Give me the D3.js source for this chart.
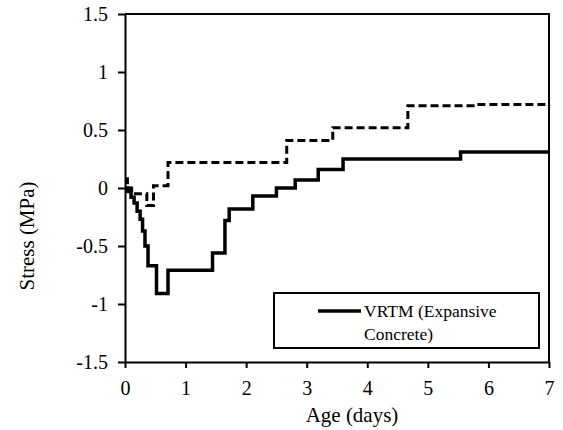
<!DOCTYPE html>
<meta charset="utf-8">
<style>
  body { margin: 0; background: #fff; }
  text { font-family: "Liberation Serif", "Times New Roman", serif; fill: #000; }
</style>
<svg width="563" height="430"></svg>
<script src="https://d3js.org/d3.v7.min.js"></script>
<script>

// data: age in days, stress in MPa (step-after)
var solidAge    = [0, 0.05, 0.1, 0.15, 0.2, 0.25, 0.29, 0.33, 0.38, 0.52, 0.71, 1.445, 1.65, 1.72, 2.11, 2.5, 2.81, 3.19, 3.6, 5.54, 7];
var solidStress = [0, -0.03, -0.08, -0.13, -0.2, -0.27, -0.37, -0.5, -0.67, -0.91, -0.71, -0.56, -0.28, -0.18, -0.07, 0, 0.07, 0.16, 0.25, 0.31, 0.31];

var dashAge    = [0, 0.04, 0.11, 0.36, 0.47, 0.71, 2.67, 3.43, 4.67, 5.8, 7];
var dashStress = [0.08, 0.0, -0.05, -0.15, 0.02, 0.22, 0.41, 0.52, 0.71, 0.72, 0.71];

var xTicks = [0, 1, 2, 3, 4, 5, 6, 7];
var yTicks = [-1.5, -1, -0.5, 0, 0.5, 1, 1.5];
var legendLabel = ["VRTM (Expansive", "Concrete)"];

var svg = d3.select("svg");
var plotL = 125, plotR = 549, plotT = 14, plotB = 362;

var x = d3.scaleLinear().domain([0, 7]).range([plotL, plotR]);
var y = d3.scaleLinear().domain([-1.5, 1.5]).range([plotB, plotT]);

// frame (top + right)
svg.append("path")
    .attr("d", "M" + plotL + "," + plotT + "H" + plotR + "V" + plotB)
    .attr("fill", "none")
    .attr("stroke", "#000")
    .attr("stroke-width", 2);

// axes
var xAxis = svg.append("g")
    .attr("transform", "translate(0," + plotB + ")")
    .call(d3.axisBottom(x).tickValues(xTicks).tickSize(6).tickSizeOuter(0).tickPadding(13).tickFormat(d3.format("d")));
var yAxis = svg.append("g")
    .attr("transform", "translate(" + plotL + ",0)")
    .call(d3.axisLeft(y).tickValues(yTicks).tickSize(7).tickSizeOuter(0).tickPadding(10).tickFormat(function(d) { return String(d); }));

[xAxis, yAxis].forEach(function(a) {
  a.select(".domain").attr("stroke-width", 2);
  a.selectAll(".tick line").attr("stroke-width", 2);
  a.selectAll("text").style("font-size", "20px").style("font-family", "Liberation Serif");
});

// series
var line = d3.line()
    .x(function(d) { return x(d[0]); })
    .y(function(d) { return y(d[1]); })
    .curve(d3.curveStepAfter);

svg.append("path")
    .datum(dashAge.map(function(a, i) { return [a, dashStress[i]]; }))
    .attr("d", line)
    .attr("fill", "none")
    .attr("stroke", "#000")
    .attr("stroke-width", 3)
    .attr("stroke-dasharray", "8,4");

svg.append("path")
    .datum(solidAge.map(function(a, i) { return [a, solidStress[i]]; }))
    .attr("d", line)
    .attr("fill", "none")
    .attr("stroke", "#000")
    .attr("stroke-width", 3.5);

// legend
var lg = svg.append("g");
lg.append("rect")
    .attr("x", 274).attr("y", 293)
    .attr("width", 265).attr("height", 55)
    .attr("fill", "#fff")
    .attr("stroke", "#000")
    .attr("stroke-width", 2);
lg.append("line")
    .attr("x1", 318).attr("x2", 361)
    .attr("y1", 311).attr("y2", 311)
    .attr("stroke", "#000")
    .attr("stroke-width", 3.5);
lg.selectAll("text.lab")
    .data(legendLabel)
    .enter().append("text")
    .attr("class", "lab")
    .attr("x", 364)
    .attr("y", function(d, i) { return 317 + i * 23; })
    .style("font-size", "17.5px")
    .text(function(d) { return d; });

// titles
svg.append("text")
    .attr("x", 352).attr("y", 422)
    .attr("text-anchor", "middle")
    .style("font-size", "21px")
    .text("Age (days)");
svg.append("text")
    .attr("transform", "translate(34,236) rotate(-90)")
    .attr("text-anchor", "middle")
    .style("font-size", "21px")
    .text("Stress (MPa)");

</script>
